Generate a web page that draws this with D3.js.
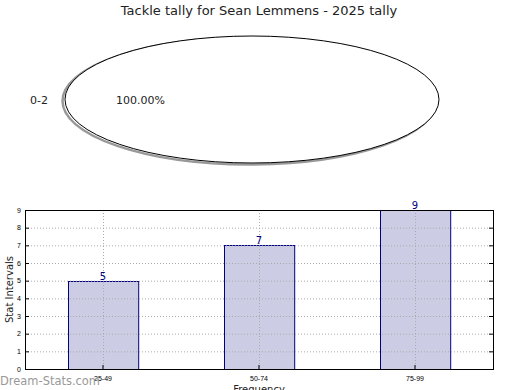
<!DOCTYPE html>
<html>
<head>
<meta charset="utf-8">
<script src="https://cdn.jsdelivr.net/npm/d3@7"></script>
<style>
    body { margin: 0; background: #fff; }
    svg { display: block; font-family: "DejaVu Sans", sans-serif; }
    .grid line { stroke: #aaa; stroke-dasharray: 1,2; }
    .axis text { font-size: 7px; fill: #000; }
</style>
</head>
<body>
<svg id="chart"></svg>
<script>
// pie data
const pieLabels = ["0-2"];
const pieValues = [100];

// bar data
const barCategories = ["25-49", "50-74", "75-99"];
const barValues = [5, 7, 9];
const yTicks = [0, 1, 2, 3, 4, 5, 6, 7, 8, 9];

const width = 520, height = 390;
const svg = d3.select("#chart").attr("width", width).attr("height", height);

// title
svg.append("text")
    .attr("x", 259)
    .attr("y", 15)
    .attr("text-anchor", "middle")
    .attr("font-size", 13)
    .attr("fill", "#222")
    .text("Tackle tally for Sean Lemmens - 2025 tally");

// --- pie (squashed into an ellipse) ---
const cx = 252, cy = 99.5, rx = 187, ry = 63.5, r = 100;
const pie = d3.pie().sort(null).startAngle(0).endAngle(2 * Math.PI);
const arcs = pie(pieValues);
const arc = d3.arc().innerRadius(0).outerRadius(r);

// shadow
svg.append("g")
    .attr("transform", `translate(${cx - 2.5},${cy + 1.5}) scale(${rx / r},${ry / r})`)
    .selectAll("path")
    .data(arcs)
    .join("path")
    .attr("d", arc)
    .attr("fill", "none")
    .attr("stroke", "#999")
    .attr("stroke-width", 2.5)
    .attr("vector-effect", "non-scaling-stroke");

const pieG = svg.append("g")
    .attr("transform", `translate(${cx},${cy}) scale(${rx / r},${ry / r})`);
pieG.selectAll("path")
    .data(arcs)
    .join("path")
    .attr("d", arc)
    .attr("fill", "#fff")
    .attr("stroke", "#000")
    .attr("stroke-width", 1)
    .attr("vector-effect", "non-scaling-stroke");

// labels
arcs.forEach((d, i) => {
    svg.append("text")
        .attr("x", 30)
        .attr("y", cy + 4)
        .attr("font-size", 11)
        .attr("fill", "#222")
        .text(pieLabels[i]);
    svg.append("text")
        .attr("x", 116)
        .attr("y", cy + 4)
        .attr("font-size", 11)
        .attr("fill", "#222")
        .text(d3.format(".2f")(d.value / d3.sum(pieValues) * 100) + "%");
});

// --- bar chart ---
const m = { left: 25, right: 493, top: 210, bottom: 369 };

const x = d3.scaleBand()
    .domain(barCategories)
    .range([m.left, m.right])
    .paddingInner(0.55)
    .paddingOuter(0.275);

const y = d3.scaleLinear()
    .domain([0, 9])
    .range([m.bottom, m.top]);

// grid
const grid = svg.append("g").attr("class", "grid");
grid.selectAll(".hy")
    .data(yTicks.slice(1, -1))
    .join("line")
    .attr("x1", m.left).attr("x2", m.right)
    .attr("y1", d => y(d) + 0.5).attr("y2", d => y(d) + 0.5);

// bars
svg.append("g").selectAll("rect")
    .data(barValues)
    .join("rect")
    .attr("x", (d, i) => Math.round(x(barCategories[i])) + 0.5)
    .attr("y", d => Math.round(y(d)) + 0.5)
    .attr("width", x.bandwidth())
    .attr("height", d => m.bottom - Math.round(y(d)))
    .attr("fill", "#ccccE4")
    .attr("stroke", "#000080")
    .attr("stroke-width", 1);

grid.raise();
grid.selectAll(".vx")
    .data(barCategories)
    .join("line")
    .attr("class", "vx")
    .attr("x1", d => Math.round(x(d) + x.bandwidth() / 2) + 0.5)
    .attr("x2", d => Math.round(x(d) + x.bandwidth() / 2) + 0.5)
    .attr("y1", m.top).attr("y2", m.bottom);

// value labels
svg.append("g").selectAll("text")
    .data(barValues)
    .join("text")
    .attr("x", (d, i) => x(barCategories[i]) + x.bandwidth() / 2)
    .attr("y", d => y(d) - 1)
    .attr("text-anchor", "middle")
    .attr("font-size", 10)
    .attr("fill", "#000080")
    .text(d => d);

// axes (ticks pointing inward like matplotlib)
const xAxis = d3.axisBottom(x).tickSizeInner(-4).tickSizeOuter(0).tickPadding(7);
const yAxis = d3.axisLeft(y).tickValues(yTicks).tickSizeInner(-4).tickSizeOuter(0).tickPadding(4);

svg.append("g")
    .attr("class", "axis")
    .attr("transform", `translate(0,${m.bottom})`)
    .call(xAxis)
    .call(g => g.select(".domain").remove());

svg.append("g")
    .attr("class", "axis")
    .attr("transform", `translate(${m.left},0)`)
    .call(yAxis)
    .call(g => g.select(".domain").remove());

// right side ticks
svg.append("g")
    .attr("transform", `translate(${m.right},0)`)
    .call(d3.axisRight(y).tickValues(yTicks).tickSizeInner(-4).tickSizeOuter(0).tickFormat(""))
    .call(g => g.select(".domain").remove());

// frame
svg.append("rect")
    .attr("x", m.left + 0.5).attr("y", m.top + 0.5)
    .attr("width", m.right - m.left).attr("height", m.bottom - m.top)
    .attr("fill", "none").attr("stroke", "#000");

// axis titles
svg.append("text")
    .attr("transform", `translate(13,${(m.top + m.bottom) / 2}) rotate(-90)`)
    .attr("text-anchor", "middle")
    .attr("font-size", 10)
    .attr("fill", "#222")
    .text("Stat Intervals");

svg.append("text")
    .attr("x", (m.left + m.right) / 2)
    .attr("y", 393)
    .attr("text-anchor", "middle")
    .attr("font-size", 10)
    .attr("fill", "#222")
    .text("Frequency");

// watermark
svg.append("text")
    .attr("x", 0)
    .attr("y", 385)
    .attr("font-size", 13)
    .attr("fill", "#999")
    .attr("textLength", 100)
    .attr("lengthAdjust", "spacingAndGlyphs")
    .text("Dream-Stats.com");
</script>
</body>
</html>
